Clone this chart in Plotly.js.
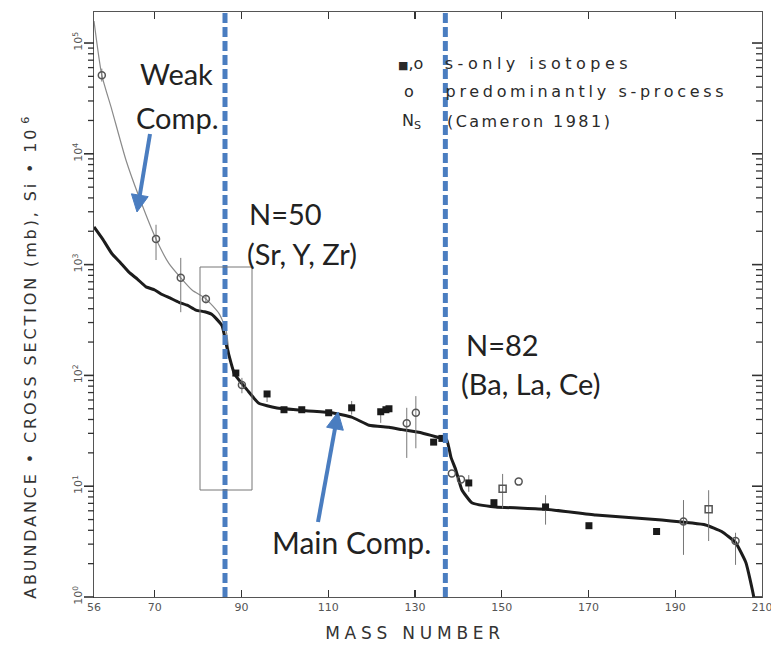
<!DOCTYPE html>
<html>
<head>
<meta charset="utf-8">
<script src="https://cdn.plot.ly/plotly-3.0.1.min.js"></script>
<style>
  html, body { margin: 0; padding: 0; background: #fff; }
  #chart { width: 771px; height: 650px; }
</style>
</head>
<body>
<div id="chart"></div>
<script>
// s-process sigma*N curve (mb, normalised to Si = 10^6) versus mass number

// Total curve (weak + main component)
const massTotal   = [56, 57.8, 60.1, 63.4, 66.4, 70.3, 73.3, 76.0, 78.6, 81.8, 84.8, 86.4, 87.2];
const sigmaNTotal = [158000, 51300, 25100, 8700, 4070, 1700, 1020, 760, 590, 490, 363, 260, 150];

// Main component
const massMain   = [56, 58.0, 60.1, 62.0, 64.1, 66.0, 68.0, 70.0, 71.7, 73.5, 75.6, 77.5, 79.5, 81.5, 83.2, 85.5, 86.6, 87.6, 88.3, 89.4, 91.3,
                    94.0, 97.9, 104.8, 110.8, 115.4, 119.4, 124.0, 127.0, 131.6, 135.5, 137.3, 138.3,
                    139.4, 140.8, 143.1, 148.6, 160.1, 171.7, 186.9, 197.0, 200.7, 203.9, 206.3, 208.1, 209.0];
const sigmaNMain = [2190, 1700, 1260, 1050, 850, 740, 630, 590, 537, 500, 457, 430, 389, 375, 355, 282, 182, 129, 105, 91, 74,
                    56, 51, 48, 46, 42, 35.5, 34, 32.4, 30.2, 27.5, 26.3, 18.2,
                    14.1, 9.3, 7.1, 6.5, 6.2, 5.5, 4.95, 4.47, 3.9, 3.1, 2.04, 1.0, 0.5];

// s-only isotopes (filled)
const massSOnly   = [88.7, 95.9, 99.8, 103.9, 110.1, 115.4, 122.1, 123.3, 124.0, 134.3, 136.2, 142.4, 148.2, 160.1, 170.1, 185.7];
const sigmaNSOnly = [105, 68, 49, 49, 46, 51, 47, 49, 50, 25, 27, 10.7, 7.1, 6.5, 4.4, 3.9];
const errUpSOnly  = [0, 0, 0, 0, 0, 7.8, 0, 0, 0, 0, 0, 1.9, 0, 1.8, 0, 0];
const errDnSOnly  = [0, 10.5, 0, 0, 0, 6.7, 9.7, 0, 0, 0, 0, 1.8, 0, 2.0, 0, 0];

// open circles
const massOpen   = [57.8, 70.3, 76.0, 81.8, 90.1, 128.1, 130.2, 138.5, 140.6, 153.9, 191.9, 203.9];
const sigmaNOpen = [51300, 1700, 760, 490, 82, 37, 46, 13, 11.5, 11, 4.8, 3.2];
const errUpOpen  = [7400, 590, 390, 47, 13, 14, 19, 0, 0, 0, 2.7, 0.6];
const errDnOpen  = [6400, 600, 388, 43, 13, 19, 24, 0, 0, 0, 2.4, 1.25];

// open squares
const massSquare   = [150.2, 197.7];
const sigmaNSquare = [9.5, 6.2];
const errUpSquare  = [3.4, 3.0];
const errDnSquare  = [3.2, 3.0];

// axis ticks and magic neutron number markers
const xTickVals = [56, 70, 90, 110, 130, 150, 170, 190, 210];
const yTickVals = [1, 10, 100, 1000, 10000, 100000];
const yTickText = ['10<sup>0</sup>', '10<sup>1</sup>', '10<sup>2</sup>', '10<sup>3</sup>', '10<sup>4</sup>', '10<sup>5</sup>'];
const magicMass = [86.2, 137.0];

// plot-area geometry in page pixels
const W = 771, H = 650, L = 94, R = 762, T = 12, B = 597;
const px = x => (x - L) / (R - L);
const py = y => (B - y) / (B - T);
const yRange = [0, 5.28];

const plotFont = 'DejaVu Sans, sans-serif';
const calloutFont = 'Lato, Open Sans, sans-serif';
const blue = '#4a7dc0';

const errStyle = (up, dn) => ({ type: 'data', symmetric: false, array: up, arrayminus: dn,
                                color: '#777', thickness: 1, width: 0 });

const traces = [
  { x: massTotal, y: sigmaNTotal, mode: 'lines', line: { color: '#8a8a8a', width: 1.2, shape: 'spline', smoothing: 0.6 }, hoverinfo: 'skip' },
  { x: massMain, y: sigmaNMain, mode: 'lines', line: { color: '#1c1c1c', width: 3, shape: 'spline', smoothing: 0.4 }, hoverinfo: 'skip' },
  { x: massOpen, y: sigmaNOpen, mode: 'markers', marker: { symbol: 'circle-open', size: 7, color: '#555', line: { width: 1.5 } },
    error_y: errStyle(errUpOpen, errDnOpen) },
  { x: massSquare, y: sigmaNSquare, mode: 'markers', marker: { symbol: 'square-open', size: 7, color: '#555', line: { width: 1.5 } },
    error_y: errStyle(errUpSquare, errDnSquare) },
  { x: massSOnly, y: sigmaNSOnly, mode: 'markers', marker: { symbol: 'square', size: 7, color: '#1a1a1a' },
    error_y: errStyle(errUpSOnly, errDnSOnly) }
];

const annos = [];
const stretch = [];
function label(text, cx, cy, font, extra, len) {
  annos.push(Object.assign({ text, x: px(cx), y: py(cy), xref: 'paper', yref: 'paper',
    xanchor: 'center', yanchor: 'middle', showarrow: false, font }, extra || {}));
  stretch.push(len || null);
}

const callout = { family: calloutFont, size: 29, color: '#222' };
const legendFont = { family: plotFont, size: 16, color: '#2a2a2a' };

label('Weak', 176, 74, callout);
label('Comp.', 177, 117, callout);
label('N=50', 285, 213, callout);
label('(Sr, Y, Zr)', 302, 253, callout);
label('N=82', 502, 344, callout);
label('(Ba, La, Ce)', 530, 383, callout);
label('Main Comp.', 351, 542, Object.assign({}, callout, { size: 30 }));

label('<span style="font-size:11px">■</span>,o', 410, 63, legendFont);
label('s-only isotopes', 536, 63, legendFont, null, 183);
label('o', 409, 92, legendFont);
label('predominantly s-process', 584, 92, legendFont, null, 278);
label('N<sub>S</sub>', 411, 121, legendFont);
label('(Cameron 1981)', 528, 121, legendFont, null, 163);

label('ABUNDANCE • CROSS SECTION (mb), Si • 10<sup>6</sup>', 29, 357,
      { family: plotFont, size: 16, color: '#333' }, { textangle: -90 }, 485);
label('MASS NUMBER', 413, 633, { family: plotFont, size: 17, color: '#333' }, null, 175);

const shapes = magicMass.map(m => ({ type: 'line', xref: 'x', yref: 'paper', x0: m, x1: m, y0: 0, y1: 1,
  line: { color: blue, width: 5, dash: '10px,4px' } }));
shapes.push({ type: 'rect', xref: 'paper', yref: 'paper', x0: px(200), x1: px(252), y0: py(490), y1: py(267),
  line: { color: '#777', width: 1 } });

// log ticks on the left (outside) and right (inside) frame: long at decades, short for 2..9
const pxW = 1 / (R - L);
for (let e = 0; e <= 5; e++) {
  for (let k = 1; k <= 9; k++) {
    const yp = (e + Math.log10(k)) / yRange[1];
    if (yp > 1) continue;
    const len = (k === 1 ? 10 : 6) * pxW;
    const style = { color: '#333', width: k === 1 ? 1.6 : 1.3 };
    shapes.push({ type: 'line', xref: 'paper', yref: 'paper', x0: -len, x1: 0, y0: yp, y1: yp, line: style });
    shapes.push({ type: 'line', xref: 'paper', yref: 'paper', x0: 1 - len, x1: 1, y0: yp, y1: yp, line: style });
  }
}

// blue call-out arrows: shaft plus filled head, given in page pixels
function arrowShapes(hx, hy, tx, ty) {
  const dx = hx - tx, dy = hy - ty, len = Math.hypot(dx, dy);
  const ux = dx / len, uy = dy / len, nx = -uy, ny = ux;
  const headLen = 17, half = 8.5;
  const bx = hx - ux * headLen, by = hy - uy * headLen;
  shapes.push({ type: 'line', xref: 'paper', yref: 'paper', x0: px(tx), y0: py(ty), x1: px(bx + ux * 2), y1: py(by + uy * 2),
    line: { color: blue, width: 4 } });
  const p = [[hx, hy], [bx + nx * half, by + ny * half], [bx - nx * half, by - ny * half]];
  shapes.push({ type: 'path', xref: 'paper', yref: 'paper',
    path: 'M' + p.map(q => px(q[0]) + ',' + py(q[1])).join(' L') + ' Z',
    fillcolor: blue, line: { color: blue, width: 1 } });
}
arrowShapes(137, 212, 150, 134);
arrowShapes(338, 412, 318, 522);

const layout = {
  width: W, height: H,
  margin: { l: L, r: W - R, t: T, b: H - B, pad: 0 },
  paper_bgcolor: '#fff', plot_bgcolor: '#fff',
  showlegend: false,
  xaxis: {
    range: [56, 210], tickvals: xTickVals, ticks: 'inside', ticklen: 7, tickwidth: 1.3, tickcolor: '#333',
    showline: true, linecolor: '#555', linewidth: 1.2, mirror: 'allticks', showgrid: false, zeroline: false,
    ticklabeloverflow: 'allow',
    tickfont: { family: plotFont, size: 11, color: '#555' }
  },
  yaxis: {
    type: 'log', range: yRange, tickvals: yTickVals, ticktext: yTickText, tickangle: -90,
    ticks: '', ticklabelstandoff: 6,
    showline: true, linecolor: '#555', linewidth: 1.2, mirror: true, showgrid: false, zeroline: false,
    tickfont: { family: plotFont, size: 11, color: '#555' }
  },
  annotations: annos,
  shapes: shapes
};

Plotly.newPlot('chart', traces, layout, { staticPlot: true }).then(() => {
  document.querySelectorAll('g.annotation').forEach(g => {
    const len = stretch[+g.getAttribute('data-index')];
    if (!len) return;
    const txt = g.querySelector('text.annotation-text');
    if (txt) { txt.setAttribute('textLength', len); txt.setAttribute('lengthAdjust', 'spacing'); }
  });
});
</script>
</body>
</html>
